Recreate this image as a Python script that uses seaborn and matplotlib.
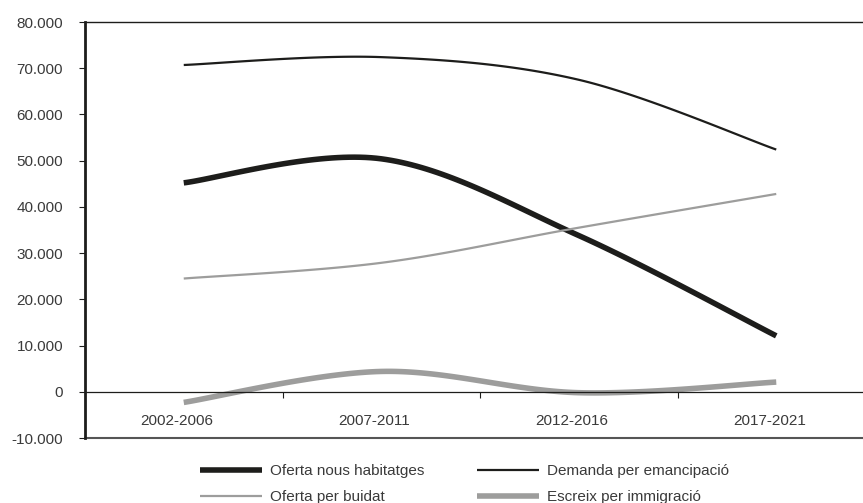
import matplotlib
matplotlib.use('Agg')
import matplotlib.pyplot as plt
import matplotlib.ticker as mticker
import matplotlib.transforms as mtransforms
from matplotlib.lines import Line2D
import seaborn as sns
import pandas as pd
import numpy as np

# Data
periods = ['2002-2006', '2007-2011', '2012-2016', '2017-2021']
oferta_nous = [45200, 50400, 33800, 12100]
demanda_emancipacio = [70700, 72400, 67500, 52400]
oferta_buidat = [24500, 27900, 35500, 42800]
escreix_immigracio = [-2300, 4400, -200, 2100]

sns.set_style('white')
plt.rcParams['font.family'] = ['Liberation Sans', 'DejaVu Sans']


def smooth(xs, ys, n=40):
    """Catmull-Rom style smoothing (like spreadsheet 'smoothed line')."""
    p = np.column_stack([xs, ys]).astype(float)
    ext = np.vstack([p[0], p, p[-1]])
    out = []
    for i in range(len(p) - 1):
        p0, p1, p2, p3 = ext[i], ext[i + 1], ext[i + 2], ext[i + 3]
        m1 = (p2 - p0) / 2
        m2 = (p3 - p1) / 2
        t = np.linspace(0, 1, n)[:, None]
        h00 = 2 * t**3 - 3 * t**2 + 1
        h10 = t**3 - 2 * t**2 + t
        h01 = -2 * t**3 + 3 * t**2
        h11 = t**3 - t**2
        seg = h00 * p1 + h10 * m1 + h01 * p2 + h11 * m2
        out.append(seg if i == 0 else seg[1:])
    out = np.vstack(out)
    return pd.DataFrame({'x': out[:, 0], 'y': out[:, 1]})


fig = plt.figure(figsize=(8.63, 5.03), dpi=100)
ax = fig.add_axes([85 / 863, 1 - 438 / 503, 790 / 863, 416 / 503])

x = np.arange(len(periods))
series = [
    ('Oferta nous habitatges', oferta_nous, '#1d1d1b', 4.0),
    ('Oferta per buidat', oferta_buidat, '#9d9d9c', 1.6),
    ('Demanda per emancipació', demanda_emancipacio, '#1d1d1b', 1.6),
    ('Escreix per immigració', escreix_immigracio, '#9d9d9c', 4.0),
]

handles = []
for label, vals, color, lw in series:
    df = smooth(x, vals)
    sns.lineplot(data=df, x='x', y='y', ax=ax, color=color, linewidth=lw,
                 sort=False, estimator=None, solid_capstyle='butt')
    handles.append(Line2D([], [], color=color, linewidth=lw, label=label,
                          solid_capstyle='butt'))

ax.set_xlim(-0.5, 3.5)
ax.set_ylim(-10000, 80000)
ax.set_xlabel('')
ax.set_ylabel('')

# y axis
ax.yaxis.set_major_locator(mticker.MultipleLocator(10000))
ax.yaxis.set_major_formatter(mticker.FuncFormatter(
    lambda v, p: f'{v:,.0f}'.replace(',', '.')))
ax.tick_params(axis='y', direction='out', length=4.3, width=0.8, color='#1d1d1b',
               labelsize=11, labelcolor='#3a3a3a', pad=11.5, left=True)

# x axis on zero line
ax.spines['bottom'].set_position(('data', 0))
ax.spines['bottom'].set_linewidth(0.9)
ax.spines['bottom'].set_color('#1d1d1b')
ax.set_xticks(x)
ax.set_xticklabels(periods)
ax.set_xticks([0.5, 1.5, 2.5], minor=True)
ax.tick_params(axis='x', which='major', length=0, labelsize=11,
               labelcolor='#3a3a3a', pad=16)
ax.tick_params(axis='x', which='minor', direction='out', length=4, width=0.8,
               color='#1d1d1b', bottom=True)
shift = mtransforms.ScaledTranslation(-7 / 100, 0, fig.dpi_scale_trans)
for lab in ax.get_xticklabels():
    lab.set_transform(lab.get_transform() + shift)

ax.spines['left'].set_linewidth(2.0)
ax.spines['left'].set_color('#1d1d1b')
ax.spines['top'].set_linewidth(1.0)
ax.spines['top'].set_color('#1d1d1b')
ax.spines['right'].set_visible(False)
ax.axhline(-10000, color='#555555', linewidth=1.5, clip_on=False)

fig.legend(handles=handles, ncol=2, loc='center',
           bbox_to_anchor=(464.5 / 863, 1 - 484 / 503),
           frameon=False, fontsize=11, handlelength=4.06, handletextpad=0.55,
           columnspacing=3.4, labelspacing=0.78, labelcolor='#3a3a3a',
           borderpad=0, borderaxespad=0)

fig.savefig('out.png', dpi=100)
